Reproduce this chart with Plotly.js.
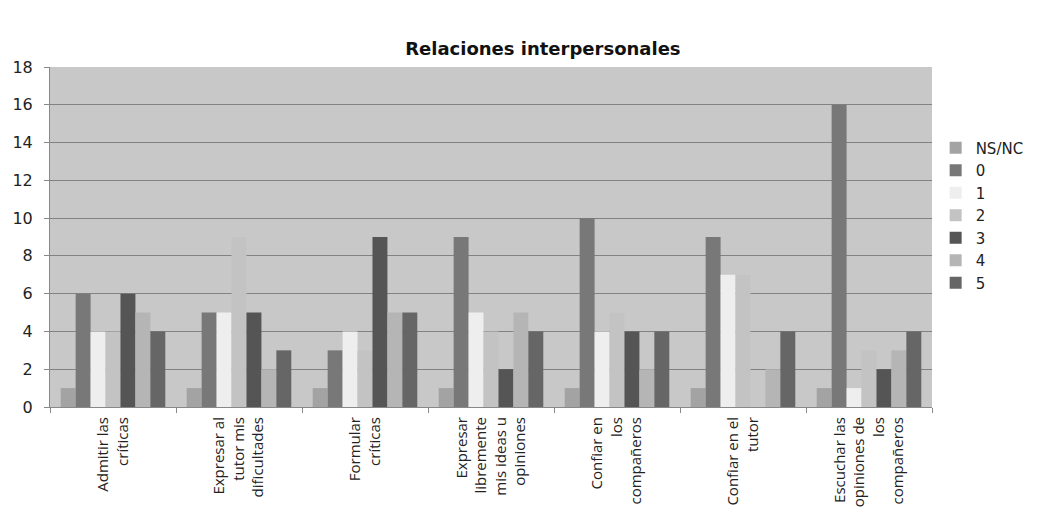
<!DOCTYPE html>
<html><head><meta charset="utf-8">
<script src="https://cdn.plot.ly/plotly-3.0.1.min.js"></script>
<style>body{margin:0;background:#fff}#chart{width:1040px;height:510px}</style>
</head><body><div id="chart"></div>
<script>
const categories = [
  "Admitir las<br>críticas",
  "Expresar al<br>tutor mis<br>dificultades",
  "Formular<br>críticas",
  "Expresar<br>libremente<br>mis ideas u<br>opiniones",
  "Confiar en<br>los<br>compañeros",
  "Confiar en el<br>tutor",
  "Escuchar las<br>opiniones de<br>los<br>compañeros"
];
const seriesNames = ["NS/NC","0","1","2","3","4","5"];
const sNSNC = [1,1,1,1,1,1,1];
const s0 = [6,5,3,9,10,9,16];
const s1 = [4,5,4,5,4,7,1];
const s2 = [4,9,3,4,5,7,3];
const s3 = [6,5,9,2,4,0,2];
const s4 = [5,2,5,5,2,2,3];
const s5 = [4,3,5,4,4,4,4];
const seriesValues = [sNSNC,s0,s1,s2,s3,s4,s5];
const colors = ["#a3a3a3","#787878","#eeeeee","#c3c3c3","#555555","#b5b5b5","#666666"];

const traces = seriesNames.map((n,i)=>({
  type:"bar", name:n, x:categories, y:seriesValues[i],
  marker:{color:colors[i], line:{width:0}}
}));

const layout = {
  width:1040, height:510,
  margin:{l:50, r:107, t:67, b:103},
  paper_bgcolor:"#ffffff", plot_bgcolor:"#c8c8c8",
  title:{text:"<b>Relaciones interpersonales</b>", x:0.522, xanchor:"center", y:0.905, yanchor:"middle",
    font:{family:"DejaVu Sans", size:18, color:"#111"}},
  barmode:"group", bargap:0.17, bargroupgap:0,
  showlegend:true,
  legend:{x:1.003, xanchor:"left", y:0.81, yanchor:"top", font:{family:"DejaVu Sans", size:15, color:"#222"},
    tracegroupgap:0, itemwidth:30, bgcolor:"rgba(0,0,0,0)"},
  xaxis:{type:"category", tickson:"boundaries", ticks:"outside", ticklen:5, tickcolor:"#888",
    showline:true, linecolor:"#888", linewidth:1, showgrid:false, tickangle:-90, ticklabelstandoff:3,
    tickfont:{family:"Open Sans", size:15, color:"#222"}, automargin:false},
  yaxis:{range:[0,18], dtick:2, showgrid:true, gridcolor:"#828282", gridwidth:1,
    showline:true, linecolor:"#888", linewidth:1, ticks:"outside", ticklen:5, tickcolor:"#888",
    ticklabelstandoff:8,
    tickfont:{family:"DejaVu Sans", size:16, color:"#222"}, zeroline:false, automargin:false}
};
Plotly.newPlot("chart", traces, layout, {displayModeBar:false, staticPlot:true});
</script></body></html>
